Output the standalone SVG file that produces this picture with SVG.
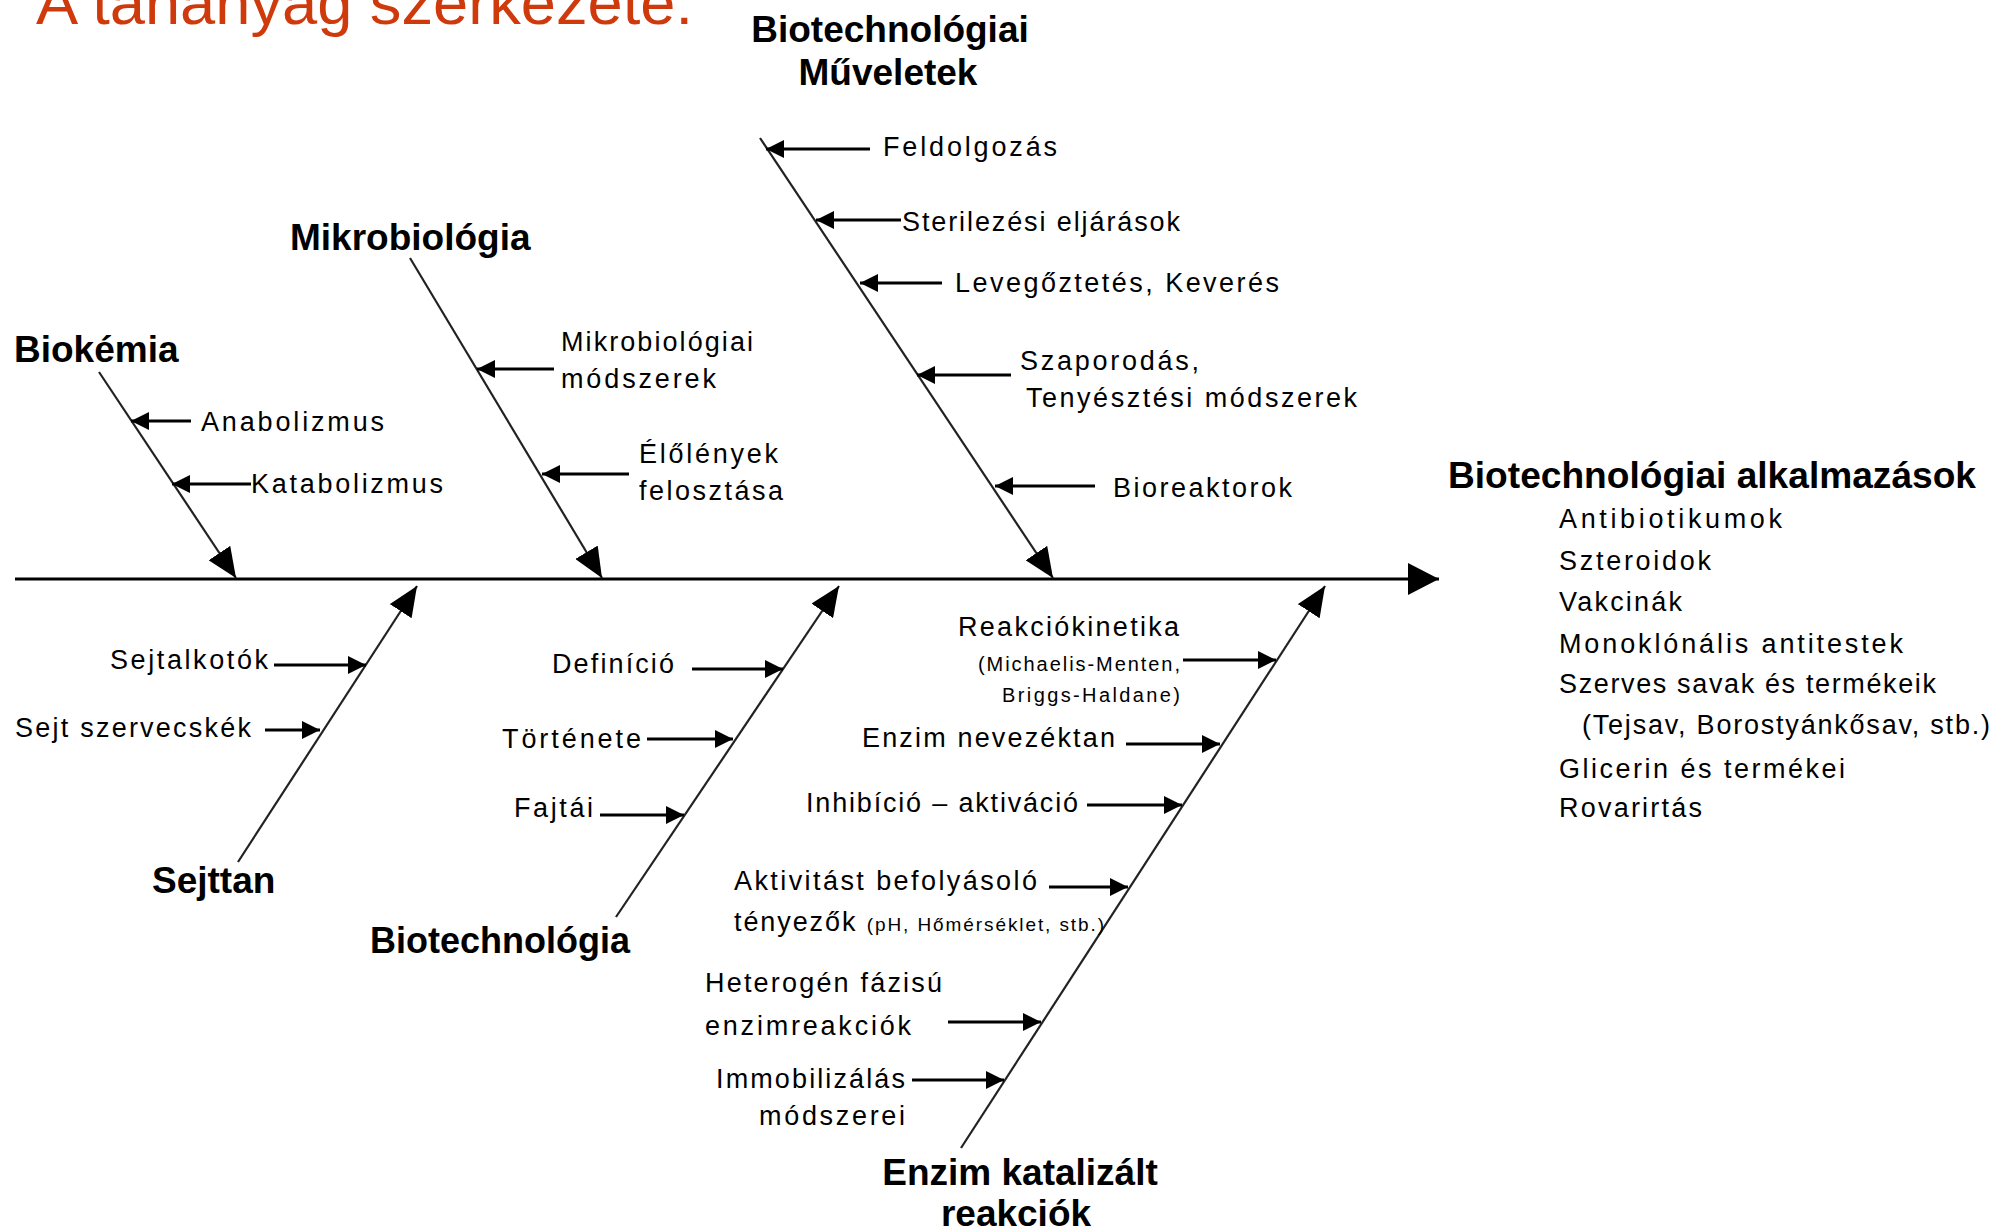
<svg xmlns="http://www.w3.org/2000/svg" width="2009" height="1231" viewBox="0 0 2009 1231">
<style>
.title{font-family:"Liberation Sans",Arial,sans-serif;font-size:62px;fill:#CF3A0C}
.h{font-family:"Liberation Sans",Arial,sans-serif;font-size:37px;font-weight:bold;fill:#000}
.l{font-family:"Liberation Sans",Arial,sans-serif;font-size:27px;fill:#000}
.s{font-family:"Liberation Sans",Arial,sans-serif;font-size:20px;fill:#000}
.r{font-family:"Liberation Sans",Arial,sans-serif;font-size:27px;fill:#000}
.bone{stroke:#222;stroke-width:2.2;fill:none}
.sub{stroke:#000;stroke-width:3;fill:none}
.spine{stroke:#000;stroke-width:3;fill:none}
</style>
<defs>
<marker id="big" markerUnits="userSpaceOnUse" markerWidth="32" markerHeight="26" refX="30" refY="13" orient="auto"><path d="M0,0 L30,13 L0,26 z" fill="#000"/></marker>
<marker id="sm" markerUnits="userSpaceOnUse" markerWidth="18" markerHeight="18" refX="18" refY="9" orient="auto"><path d="M0,0 L18,9 L0,18 z" fill="#000"/></marker>
<marker id="sp" markerUnits="userSpaceOnUse" markerWidth="32" markerHeight="32" refX="31" refY="16" orient="auto"><path d="M0,0 L31,16 L0,32 z" fill="#000"/></marker>
</defs>
<rect width="2009" height="1231" fill="#fff"/>
<text class="title" x="36" y="24" textLength="657" lengthAdjust="spacingAndGlyphs">A tananyag szerkezete:</text>

<g id="connectors">
<line class="spine" x1="15" y1="579" x2="1439" y2="579" marker-end="url(#sp)"/>
<line class="bone" x1="99" y1="372" x2="236" y2="578" marker-end="url(#big)"/>
<line class="bone" x1="410" y1="258" x2="602" y2="578" marker-end="url(#big)"/>
<line class="bone" x1="760" y1="138" x2="1053" y2="578" marker-end="url(#big)"/>
<line class="bone" x1="238" y1="862" x2="417" y2="586" marker-end="url(#big)"/>
<line class="bone" x1="616" y1="917" x2="839" y2="586" marker-end="url(#big)"/>
<line class="bone" x1="961" y1="1148" x2="1325" y2="586" marker-end="url(#big)"/>
<line class="sub" x1="870" y1="149" x2="766" y2="149" marker-end="url(#sm)"/>
<line class="sub" x1="901" y1="220" x2="816" y2="220" marker-end="url(#sm)"/>
<line class="sub" x1="942" y1="283" x2="860" y2="283" marker-end="url(#sm)"/>
<line class="sub" x1="1011" y1="375" x2="917" y2="375" marker-end="url(#sm)"/>
<line class="sub" x1="1095" y1="486" x2="995" y2="486" marker-end="url(#sm)"/>
<line class="sub" x1="554" y1="369" x2="477" y2="369" marker-end="url(#sm)"/>
<line class="sub" x1="629" y1="474" x2="542" y2="474" marker-end="url(#sm)"/>
<line class="sub" x1="191" y1="421" x2="131" y2="421" marker-end="url(#sm)"/>
<line class="sub" x1="251" y1="484" x2="172" y2="484" marker-end="url(#sm)"/>
<line class="sub" x1="274" y1="665" x2="366" y2="665" marker-end="url(#sm)"/>
<line class="sub" x1="265" y1="730" x2="320" y2="730" marker-end="url(#sm)"/>
<line class="sub" x1="692" y1="669" x2="783" y2="669" marker-end="url(#sm)"/>
<line class="sub" x1="647" y1="739" x2="733" y2="739" marker-end="url(#sm)"/>
<line class="sub" x1="600" y1="815" x2="684" y2="815" marker-end="url(#sm)"/>
<line class="sub" x1="1183" y1="660" x2="1276" y2="660" marker-end="url(#sm)"/>
<line class="sub" x1="1126" y1="744" x2="1220" y2="744" marker-end="url(#sm)"/>
<line class="sub" x1="1087" y1="805" x2="1182" y2="805" marker-end="url(#sm)"/>
<line class="sub" x1="1049" y1="887" x2="1128" y2="887" marker-end="url(#sm)"/>
<line class="sub" x1="948" y1="1022" x2="1041" y2="1022" marker-end="url(#sm)"/>
<line class="sub" x1="912" y1="1080" x2="1004" y2="1080" marker-end="url(#sm)"/>
</g>

<g id="node-biotech-muveletek">
<text class="h" x="890" y="42" text-anchor="middle">Biotechnológiai</text>
<text class="h" x="888" y="85" text-anchor="middle">Műveletek</text>
<text class="l" x="883" y="156" textLength="174" lengthAdjust="spacing">Feldolgozás</text>
<text class="l" x="902" y="231" textLength="278" lengthAdjust="spacing">Sterilezési eljárások</text>
<text class="l" x="955" y="292" textLength="324" lengthAdjust="spacing">Levegőztetés, Keverés</text>
<text class="l" x="1020" y="370" textLength="179" lengthAdjust="spacing">Szaporodás,</text>
<text class="l" x="1026" y="407" textLength="331" lengthAdjust="spacing">Tenyésztési módszerek</text>
<text class="l" x="1113" y="497" textLength="179" lengthAdjust="spacing">Bioreaktorok</text>
</g>

<g id="node-mikrobiologia">
<text class="h" x="290" y="250">Mikrobiológia</text>
<text class="l" x="561" y="351" textLength="192" lengthAdjust="spacing">Mikrobiológiai</text>
<text class="l" x="561" y="388" textLength="155" lengthAdjust="spacing">módszerek</text>
<text class="l" x="639" y="463" textLength="139" lengthAdjust="spacing">Élőlények</text>
<text class="l" x="639" y="500" textLength="144" lengthAdjust="spacing">felosztása</text>
</g>

<g id="node-biokemia">
<text class="h" x="14" y="362">Biokémia</text>
<text class="l" x="201" y="431" textLength="183" lengthAdjust="spacing">Anabolizmus</text>
<text class="l" x="251" y="493" textLength="192" lengthAdjust="spacing">Katabolizmus</text>
</g>

<g id="node-sejttan">
<text class="h" x="152" y="893">Sejttan</text>
<text class="l" x="110" y="669" textLength="158" lengthAdjust="spacing">Sejtalkotók</text>
<text class="l" x="15" y="737" textLength="236" lengthAdjust="spacing">Sejt szervecskék</text>
</g>

<g id="node-biotechnologia">
<text class="h" x="370" y="953" textLength="260" lengthAdjust="spacingAndGlyphs">Biotechnológia</text>
<text class="l" x="552" y="673" textLength="122" lengthAdjust="spacing">Definíció</text>
<text class="l" x="502" y="748" textLength="139" lengthAdjust="spacing">Története</text>
<text class="l" x="514" y="817" textLength="79" lengthAdjust="spacing">Fajtái</text>
</g>

<g id="node-enzim">
<text class="h" x="1020" y="1185" text-anchor="middle">Enzim katalizált</text>
<text class="h" x="1016" y="1226" text-anchor="middle">reakciók</text>
<text class="l" x="958" y="636" textLength="221" lengthAdjust="spacing">Reakciókinetika</text>
<text class="s" x="978" y="671" textLength="202" lengthAdjust="spacing">(Michaelis-Menten,</text>
<text class="s" x="1002" y="702" textLength="178" lengthAdjust="spacing">Briggs-Haldane)</text>
<text class="l" x="862" y="747" textLength="253" lengthAdjust="spacing">Enzim nevezéktan</text>
<text class="l" x="806" y="812" textLength="272" lengthAdjust="spacing">Inhibíció – aktiváció</text>
<text class="l" x="734" y="890" textLength="303" lengthAdjust="spacing">Aktivitást befolyásoló</text>
<text class="l" x="734" y="931" textLength="370" lengthAdjust="spacing">tényezők <tspan font-size="19">(pH, Hőmérséklet, stb.)</tspan></text>
<text class="l" x="705" y="992" textLength="237" lengthAdjust="spacing">Heterogén fázisú</text>
<text class="l" x="705" y="1035" textLength="206" lengthAdjust="spacing">enzimreakciók</text>
<text class="l" x="716" y="1088" textLength="189" lengthAdjust="spacing">Immobilizálás</text>
<text class="l" x="759" y="1125" textLength="146" lengthAdjust="spacing">módszerei</text>
</g>

<g id="node-alkalmazasok">
<text class="h" x="1448" y="488" textLength="528" lengthAdjust="spacingAndGlyphs">Biotechnológiai alkalmazások</text>
<text class="r" x="1559" y="528" textLength="223" lengthAdjust="spacing">Antibiotikumok</text>
<text class="r" x="1559" y="570" textLength="152" lengthAdjust="spacing">Szteroidok</text>
<text class="r" x="1559" y="611" textLength="123" lengthAdjust="spacing">Vakcinák</text>
<text class="r" x="1559" y="653" textLength="344" lengthAdjust="spacing">Monoklónális antitestek</text>
<text class="r" x="1559" y="693" textLength="377" lengthAdjust="spacing">Szerves savak és termékeik</text>
<text class="r" x="1582" y="734" textLength="408" lengthAdjust="spacing">(Tejsav, Borostyánkősav, stb.)</text>
<text class="r" x="1559" y="778" textLength="286" lengthAdjust="spacing">Glicerin és termékei</text>
<text class="r" x="1559" y="817" textLength="143" lengthAdjust="spacing">Rovarirtás</text>
</g>
</svg>
